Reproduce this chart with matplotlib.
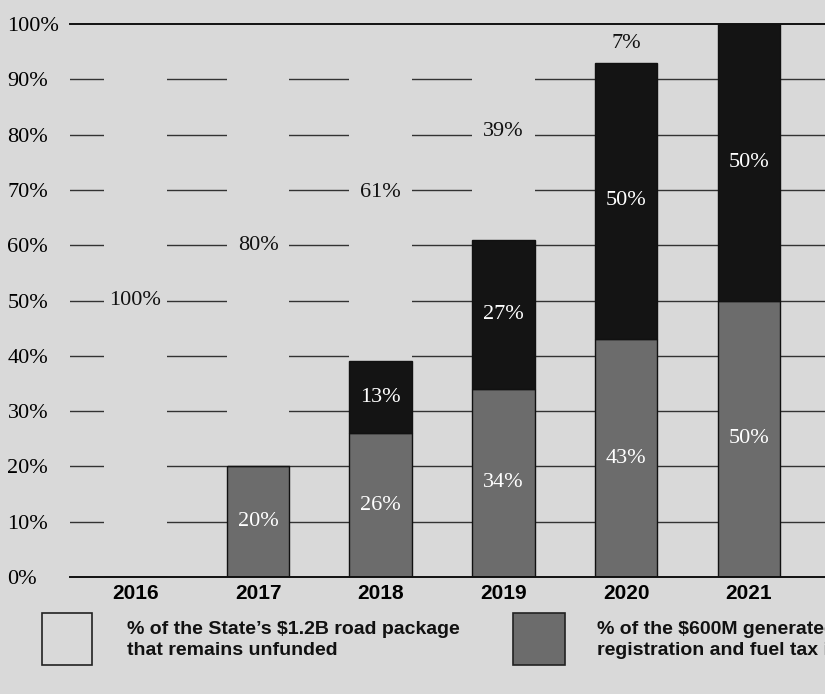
import matplotlib
matplotlib.use("Agg")
import matplotlib.pyplot as plt
from matplotlib.patches import Rectangle

# data
years = ["2016", "2017", "2018", "2019", "2020", "2021"]
vehicle_fees = [0, 20, 26, 34, 43, 50]      # gray part
other_funding = [0, 0, 13, 27, 50, 50]      # black part
unfunded = [100, 80, 61, 39, 7, 0]          # remaining, shown as blank
y_ticks = [0, 10, 20, 30, 40, 50, 60, 70, 80, 90, 100]

bg = "#d9d9d9"
gray = "#6c6c6c"
black = "#141414"
serif = ["Liberation Serif", "DejaVu Serif"]
sans = ["Liberation Sans", "DejaVu Sans"]

W, H = 825, 694
fig = plt.figure(figsize=(W / 100, H / 100), dpi=100, facecolor=bg)

def px(x0, y0, x1, y1):
    # figure-pixel box (top-left origin) -> figure fraction rect
    return [x0 / W, 1 - y1 / H, (x1 - x0) / W, (y1 - y0) / H]

ax = fig.add_axes(px(70, 24, 825, 577))
ax.set_facecolor(bg)
x = list(range(len(years)))
width = 0.51

# gridlines behind everything; blank bars hide them
for v in y_ticks[1:-1]:
    ax.axhline(v, color="#333333", lw=1.0, zorder=0)
ax.axhline(100, color="#111111", lw=1.4, zorder=5, clip_on=False)
ax.axhline(0, color="#111111", lw=1.4, zorder=5, clip_on=False)

base2 = [a + b for a, b in zip(vehicle_fees, other_funding)]
ax.bar(x, vehicle_fees, width, color=gray, edgecolor="#111111", lw=1, zorder=2)
ax.bar(x, other_funding, width, bottom=vehicle_fees, color=black,
       edgecolor="#111111", lw=1, zorder=2)
ax.bar(x, unfunded, width, bottom=base2, color=bg, lw=0, zorder=1)

for i in x:
    if vehicle_fees[i]:
        ax.text(i, vehicle_fees[i] / 2, f"{vehicle_fees[i]}%", color="white",
                ha="center", va="center", fontsize=16, family=serif, zorder=6)
    if other_funding[i]:
        ax.text(i, vehicle_fees[i] + other_funding[i] / 2, f"{other_funding[i]}%",
                color="white", ha="center", va="center", fontsize=16,
                family=serif, zorder=6)
    if unfunded[i]:
        ax.text(i, base2[i] + unfunded[i] / 2, f"{unfunded[i]}%", color="#111111",
                ha="center", va="center", fontsize=16, family=serif, zorder=6)

ax.set_xlim(-0.532, 5.62)
ax.set_ylim(0, 100)
ax.set_yticks(y_ticks)
ax.set_yticklabels([f"{v}%" for v in y_ticks], family=serif, fontsize=16)
for lab in ax.get_yticklabels():
    lab.set_horizontalalignment("left")
ax.tick_params(axis="y", length=0, pad=45)
ax.set_xticks(x)
ax.set_xticklabels(years, family=sans, fontsize=15, fontweight="bold")
ax.tick_params(axis="x", length=0, pad=5)
for s in ax.spines.values():
    s.set_visible(False)

# legend drawn by hand
fig.add_artist(Rectangle((42 / W, 1 - 665 / H), 50 / W, 52 / H, transform=fig.transFigure,
                         facecolor=bg, edgecolor="#222222", lw=1.2))
fig.add_artist(Rectangle((513 / W, 1 - 665 / H), 52 / W, 52 / H, transform=fig.transFigure,
                         facecolor=gray, edgecolor="#222222", lw=1.2))
fig.text(127 / W, 1 - 640 / H, "% of the State’s $1.2B road package\nthat remains unfunded",
         family=sans, fontsize=14, fontweight="bold", va="center", ha="left",
         linespacing=1.35, color="#111111")
fig.text(597 / W, 1 - 640 / H,
         "% of the $600M generated by vehicle\nregistration and fuel tax increases",
         family=sans, fontsize=14, fontweight="bold", va="center", ha="left",
         linespacing=1.35, color="#111111")

fig.savefig("out.png", dpi=100, facecolor=bg)
